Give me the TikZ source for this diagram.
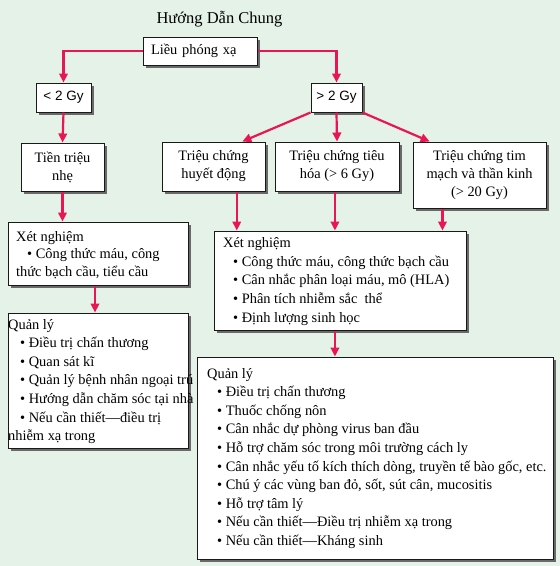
\documentclass[tikz,border=0pt]{standalone}
\usepackage{fontspec}
\setmainfont{Liberation Serif}
\newfontfamily\sansf{Liberation Sans}
\usetikzlibrary{arrows.meta,shadows,calc}
\definecolor{bgc}{RGB}{228,242,231}
\definecolor{arrc}{RGB}{232,22,82}
\definecolor{shc}{RGB}{105,105,105}
\tikzset{
  box/.style={draw=black!90, line width=1pt, fill=white, inner sep=0pt, align=center,
    drop shadow={shadow xshift=2.5pt, shadow yshift=-2.5pt, fill=shc, opacity=1},
    font=\fontsize{14.4}{18}\selectfont},
  sbox/.style={box, font=\sansf\fontsize{13.5}{16}\selectfont},
  txt/.style={inner sep=0pt, anchor=base west, align=left, font=\fontsize{14.4}{18.6}\selectfont},
  arr/.style={draw=arrc, line width=2.2pt, -{Triangle[length=9pt,width=8.5pt]}}
}
\begin{document}
\begin{tikzpicture}[x=1pt,y=-1pt]
\fill[bgc] (0,0) rectangle (560,566);
\useasboundingbox (0,0) rectangle (560,566);

\node[inner sep=0pt, anchor=base, font=\fontsize{16.5}{20}\selectfont] (title) at (219.5,23) {Hướng Dẫn Chung};

\node[box, minimum height=28pt, text width=98pt, inner xsep=8pt, align=left] (dose) at (200,51) {Liều phóng xạ};
\node[sbox, minimum width=55pt, minimum height=29pt] (lt2) at (63.5,97.5) {< 2 Gy};
\node[sbox, minimum width=51pt, minimum height=29pt] (gt2) at (336.5,97.5) {> 2 Gy};

\node[box, minimum width=83pt, minimum height=48pt] (tien) at (62.5,167) {Tiền triệu\\nhẹ};
\node[box, minimum width=103pt, minimum height=49pt] (huyet) at (213.5,166.5) {Triệu chứng\\huyết động};
\node[box, minimum width=124pt, minimum height=49pt] (tieu) at (337,166.5) {Triệu chứng tiêu\\hóa (> 6 Gy)};
\node[box, minimum width=133pt, minimum height=66pt] (tim) at (479.5,175) {Triệu chứng tim\\mạch và thần kinh\\(> 20 Gy)};

\node[box, minimum width=180pt, minimum height=63pt] (xnL) at (98,253.5) {};
\node[box, minimum width=180pt, minimum height=135pt] (qlL) at (98,380.5) {};
\node[box, minimum width=252pt, minimum height=99pt] (xnR) at (340,280.5) {};
\node[box, minimum width=356pt, minimum height=202pt] (qlR) at (375,458) {};

\node[txt, font=\fontsize{14.4}{17.5}\selectfont] (xnLt) at (16,276) {Xét nghiệm\\\hspace*{11pt}• Công thức máu, công\\thức bạch cầu, tiểu cầu};
\node[txt] (qlLt) at (8,440.6) {Quản lý\\\hspace*{12pt}• Điều trị chấn thương\\\hspace*{12pt}• Quan sát kĩ\\\hspace*{12pt}• Quản lý bệnh nhân ngoại trú\\\hspace*{12pt}• Hướng dẫn chăm sóc tại nhà\\\hspace*{12pt}• Nếu cần thiết—điều trị\\nhiễm xạ trong};
\node[txt] (xnRt) at (223,322) {Xét nghiệm\\\hspace*{10pt}• Công thức máu, công thức bạch cầu\\\hspace*{10pt}• Cân nhắc phân loại máu, mô (HLA)\\\hspace*{10pt}• Phân tích nhiễm sắc \ thể\\\hspace*{10pt}• Định lượng sinh học};
\node[txt] (qlRt) at (207,545.4) {Quản lý\\\hspace*{10pt}• Điều trị chấn thương\\\hspace*{10pt}• Thuốc chống nôn\\\hspace*{10pt}• Cân nhắc dự phòng virus ban đầu\\\hspace*{10pt}• Hỗ trợ chăm sóc trong môi trường cách ly\\\hspace*{10pt}• Cân nhắc yếu tố kích thích dòng, truyền tế bào gốc, etc.\\\hspace*{10pt}• Chú ý các vùng ban đỏ, sốt, sút cân, mucositis\\\hspace*{10pt}• Hỗ trợ tâm lý\\\hspace*{10pt}• Nếu cần thiết—Điều trị nhiễm xạ trong\\\hspace*{10pt}• Nếu cần thiết—Kháng sinh};

% connectors
\draw[arr] (dose.west) -| (lt2.north);
\draw[arr] (dose.east) -| (gt2.north);
\draw[arr] (lt2.south) -- (tien.north);
\coordinate (h1) at ($(huyet.north west)!0.777!(huyet.north east)$);
\coordinate (t1) at ($(tim.north west)!0.128!(tim.north east)$);
\draw[arr] (gt2.south west) -- (h1);
\draw[arr] (gt2.south) -- (tieu.north);
\draw[arr] (gt2.south east) -- (t1);
\draw[arr] (tien.south) -- (tien.south |- xnL.north);
\coordinate (l2) at ($(xnL.south)+(-3,0)$);
\draw[arr] (l2) -- (l2 |- qlL.north);
\coordinate (r1) at ($(xnR.north west)!0.092!(xnR.north east)$);
\coordinate (r2) at ($(xnR.north west)!0.480!(xnR.north east)$);
\coordinate (r3) at ($(xnR.north west)!0.905!(xnR.north east)$);
\draw[arr] (huyet.south -| r1) -- (r1);
\draw[arr] (tieu.south -| r2) -- (r2);
\draw[arr] (tim.south -| r3) -- (r3);
\coordinate (r4) at (xnR.south -| r2);
\draw[arr] (r4) -- (r4 |- qlR.north);
\end{tikzpicture}
\end{document}
